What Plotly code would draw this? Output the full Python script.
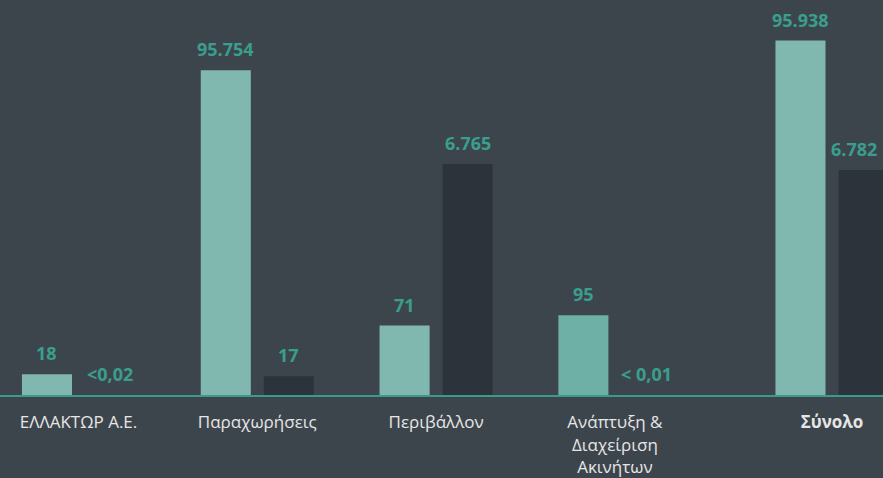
import math
import plotly.graph_objects as go

# ---- data -------------------------------------------------------------
categories = [
    "ΕΛΛΑΚΤΩΡ Α.Ε.",
    "Παραχωρήσεις",
    "Περιβάλλον",
    "Ανάπτυξη &<br>Διαχείριση<br>Ακινήτων",
]
values_light = [18, 95754, 71, 95]
values_dark = [0.02, 17, 6765, 0.01]
labels_light = ["18", "95.754", "71", "95"]
labels_dark = ["&lt;0,02", "17", "6.765", "&lt; 0,01"]

total_category = ["<b>Σύνολο</b>"]
total_light = [95938]
total_dark = [6782]
total_labels_light = ["95.938"]
total_labels_dark = ["6.782"]

# ---- style --------------------------------------------------------------
W, H = 883, 478
BG = "#3d454c"
LIGHT = "#80b8b0"
LIGHT_ALT = "#6fb0a6"
DARK = "#2d333a"
TEAL_TEXT = "#3a9e8e"
AXIS_LINE = "#3a9a8c"
TICK_TEXT = "#e6e6e6"
FONT = "Open Sans"

light_colors = [LIGHT, LIGHT, LIGHT, LIGHT_ALT]

plot_bottom = 397          # pixel row of the baseline
slot_px = 178.8            # width of one category slot
bargap = 0.295
bargroupgap = 0.206
bar_offset = slot_px * (1 - bargap) / 4   # centre of each bar relative to its category

split_px = 710             # where the totals panel begins
first_center = 78.5
total_center = 832

# log ranges (in log10 units) for the two panels
y1_lo = 1.0
y1_hi = y1_lo + plot_bottom / 82.0
y2_lo = 1.83
y2_hi = y2_lo + plot_bottom / 113.0

fig = go.Figure()

fig.add_trace(go.Bar(x=categories, y=values_light, marker=dict(color=light_colors, line=dict(width=0)),
                     xaxis="x", yaxis="y", hoverinfo="skip"))
fig.add_trace(go.Bar(x=categories, y=values_dark, marker=dict(color=DARK, line=dict(width=0)),
                     xaxis="x", yaxis="y", hoverinfo="skip"))
fig.add_trace(go.Bar(x=total_category, y=total_light, marker=dict(color=LIGHT, line=dict(width=0)),
                     xaxis="x2", yaxis="y2", hoverinfo="skip"))
fig.add_trace(go.Bar(x=total_category, y=total_dark, marker=dict(color=DARK, line=dict(width=0)),
                     xaxis="x2", yaxis="y2", hoverinfo="skip"))

# value labels sitting just above each bar
annotations = []


def add_labels(cats, vals, texts, xref, yref, lo, shift):
    for c, v, t in zip(cats, vals, texts):
        annotations.append(dict(
            x=c, y=max(math.log10(v), lo), xref=xref, yref=yref,
            text=t, showarrow=False, xanchor="center", yanchor="bottom",
            xshift=shift, yshift=7,
            font=dict(family=FONT, size=18, color=TEAL_TEXT, weight="bold"),
        ))


add_labels(categories, values_light, labels_light, "x", "y", y1_lo, -bar_offset)
add_labels(categories, values_dark, labels_dark, "x", "y", y1_lo, bar_offset)
add_labels(total_category, total_light, total_labels_light, "x2", "y2", y2_lo, -bar_offset)
# the last label sits against the right edge, so nudge it inward to keep it whole
add_labels(total_category, total_dark, total_labels_dark, "x2", "y2", y2_lo, bar_offset - 10)

xaxis_common = dict(
    type="category", showgrid=False, zeroline=False, showline=True,
    linecolor=AXIS_LINE, linewidth=2, ticks="", fixedrange=True,
    ticklabelstandoff=11,
    tickfont=dict(family=FONT, size=17, color=TICK_TEXT),
)
yaxis_common = dict(
    type="log", showgrid=False, zeroline=False, showline=False,
    showticklabels=False, ticks="", fixedrange=True,
)

fig.update_layout(
    width=W, height=H,
    margin=dict(l=0, r=0, t=0, b=H - plot_bottom, pad=0),
    paper_bgcolor=BG, plot_bgcolor=BG,
    barmode="group", bargap=bargap, bargroupgap=bargroupgap,
    showlegend=False,
    font=dict(family=FONT),
    xaxis=dict(
        xaxis_common, domain=[0, split_px / W], anchor="y",
        range=[-first_center / slot_px, (split_px - first_center) / slot_px],
    ),
    xaxis2=dict(
        xaxis_common, domain=[split_px / W, 1], anchor="y2",
        range=[(split_px - total_center) / slot_px, (W - total_center) / slot_px],
    ),
    yaxis=dict(yaxis_common, range=[y1_lo, y1_hi], anchor="x"),
    yaxis2=dict(yaxis_common, range=[y2_lo, y2_hi], anchor="x2"),
    annotations=annotations,
)

fig.write_html("out.html", config={"displayModeBar": False})
